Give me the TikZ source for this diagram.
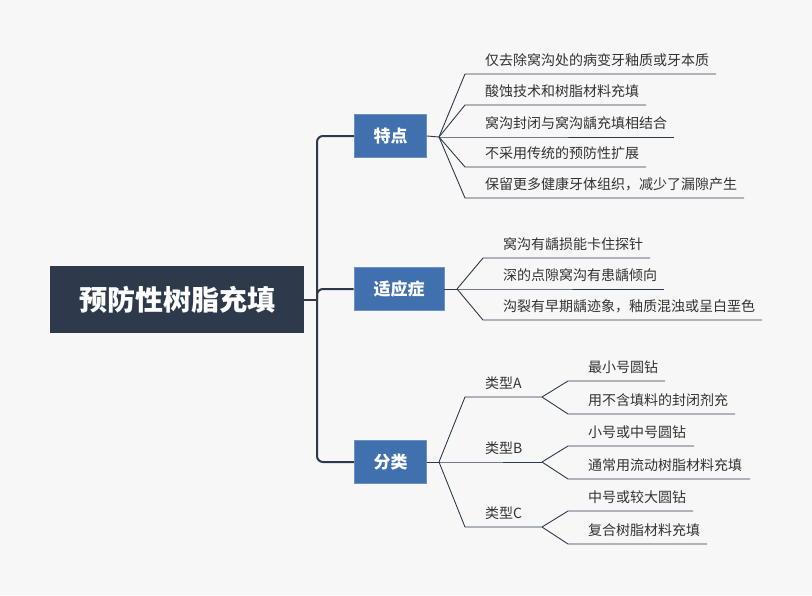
\documentclass[tikz,border=0pt]{standalone}
\usepackage{fontspec}
\setmainfont{Noto Sans CJK SC}
\definecolor{bgc}{HTML}{F7F7F7}
\definecolor{rootc}{HTML}{2E3A4C}
\definecolor{branchc}{HTML}{4070AD}
\definecolor{branchedge}{HTML}{6B90C2}
\definecolor{linec}{HTML}{2E3A4C}
\definecolor{textc}{HTML}{333333}
\tikzset{
  rootbox/.style={fill=rootc, text=white, font=\bfseries\fontsize{28}{31}\selectfont, minimum width=254pt, minimum height=67pt, inner sep=0pt},
  branchbox/.style={fill=branchc, draw=branchedge, line width=0.8pt, text=white, font=\bfseries\fontsize{17}{20}\selectfont, minimum height=43pt, inner sep=0pt},
  leaftext/.style={anchor=west, inner sep=0pt, text=textc, font=\fontsize{14}{16}\selectfont},
  trunkline/.style={draw=linec, line width=2pt, rounded corners=6pt},
  fanline/.style={draw=linec, line width=0.9pt},
}
\newcommand{\leafitem}[6]{%
  \coordinate (#1s) at (#3,#4);
  \coordinate (#1e) at (#5,#4);
  \node[leaftext] (#1) at ({#3+20},{#4-13.5}) {#6};
  \draw[fanline] (#2) -- (#1s) -- (#1e);
}
\begin{document}
\begin{tikzpicture}[x=1pt,y=-1pt,line join=round]
\fill[bgc] (0,0) rectangle (812,595);
\useasboundingbox (0,0) rectangle (812,595);
% root and branches
\node[rootbox] (root) at (177,299.5) {预防性树脂充填};
\node[branchbox, minimum width=72pt] (td) at (390.5,136) {特点};
\node[branchbox, minimum width=90pt] (sy) at (399,289) {适应症};
\node[branchbox, minimum width=72pt] (fl) at (390.5,462) {分类};
\coordinate (trunk) at (317,299.5);
\draw[trunkline] (root.east) -- (trunk);
\draw[trunkline] (trunk) |- (td.west);
\draw[trunkline] (trunk) |- (sy.west);
\draw[trunkline] (trunk) |- (fl.west);
% 特点
\coordinate (tdf) at (439,137);
\draw[fanline] (td.east) -- (tdf);
\leafitem{t1}{tdf}{465}{74}{716}{仅去除窝沟处的病变牙釉质或牙本质}
\leafitem{t2}{tdf}{465}{105}{646}{酸蚀技术和树脂材料充填}
\leafitem{t3}{tdf}{465}{137}{674}{窝沟封闭与窝沟龋充填相结合}
\leafitem{t4}{tdf}{465}{167}{646}{不采用传统的预防性扩展}
\leafitem{t5}{tdf}{465}{198}{744}{保留更多健康牙体组织，减少了漏隙产生}
% 适应症
\coordinate (syf) at (457,289);
\draw[fanline] (sy.east) -- (syf);
\leafitem{s1}{syf}{483}{258}{650}{窝沟有龋损能卡住探针}
\leafitem{s2}{syf}{483}{289}{664}{深的点隙窝沟有患龋倾向}
\leafitem{s3}{syf}{483}{320}{762}{沟裂有早期龋迹象，釉质混浊或呈白垩色}
% 分类
\coordinate (flf) at (439,462);
\draw[fanline] (fl.east) -- (flf);
\leafitem{ta}{flf}{465}{397}{542}{类型A}
\leafitem{tb}{flf}{465}{462}{542}{类型B}
\leafitem{tc}{flf}{465}{527}{542}{类型C}
\leafitem{a1}{tae}{568}{381}{665}{最小号圆钻}
\leafitem{a2}{tae}{568}{414}{735}{用不含填料的封闭剂充}
\leafitem{b1}{tbe}{568}{446}{694}{小号或中号圆钻}
\leafitem{b2}{tbe}{568}{479}{750}{通常用流动树脂材料充填}
\leafitem{c1}{tce}{568}{511}{693}{中号或较大圆钻}
\leafitem{c2}{tce}{568}{544}{707}{复合树脂材料充填}
\end{tikzpicture}
\end{document}
